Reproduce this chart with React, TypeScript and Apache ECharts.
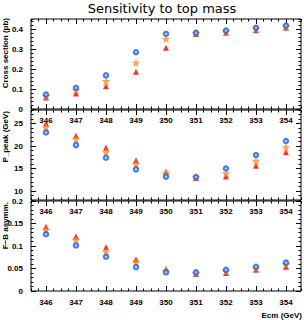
import React, { useEffect, useRef } from "react";
import * as echarts from "echarts";

const energies = [346, 347, 348, 349, 350, 351, 352, 353, 354];

const xsecBlue = [0.072, 0.106, 0.168, 0.284, 0.376, 0.381, 0.392, 0.406, 0.417];
const xsecStar = [0.065, 0.094, 0.139, 0.231, 0.351, 0.38, 0.388, 0.402, 0.412];
const xsecTri = [0.058, 0.078, 0.114, 0.186, 0.306, 0.375, 0.381, 0.394, 0.406];

const ppeakBlue = [23.0, 20.2, 17.4, 14.8, 13.2, 13.1, 15.0, 18.0, 21.1];
const ppeakStar = [24.1, 21.5, 18.6, 15.9, 13.9, 13.0, 13.9, 16.7, 19.7];
const ppeakTri = [25.0, 22.3, 19.6, 16.8, 14.3, 12.9, 13.2, 15.6, 18.6];

const afbBlue = [0.126, 0.101, 0.076, 0.053, 0.0415, 0.0415, 0.047, 0.054, 0.063];
const afbStar = [0.1355, 0.113, 0.087, 0.064, 0.045, 0.04, 0.044, 0.051, 0.059];
const afbTri = [0.143, 0.121, 0.097, 0.07, 0.049, 0.038, 0.04, 0.047, 0.054];

const yTicks1 = [0, 0.1, 0.2, 0.3, 0.4];
const yTicks2 = [10, 15, 20, 25];
const yTicks3 = [0, 0.05, 0.1, 0.15, 0.2];

const title = "Sensitivity to top mass";
const yNames = ["Cross section (pb)", "P_peak (GeV)", "F\u2212B asymm."];
const xName = "Ecm (GeV)";

const FONT = "Liberation Sans, Arial, sans-serif";
const STAR =
  "path://M12,0 L14.9,8.6 L24,8.6 L16.6,14 L19.4,22.8 L12,17.4 L4.6,22.8 L7.4,14 L0,8.6 L9.1,8.6 Z";

const X_MIN = 345.5;
const X_MAX = 354.5;

const grids = [
  { top: 19, yMin: 0, yMax: 0.45, majors: yTicks1, minor: 0.02 },
  { top: 110, yMin: 8, yMax: 28, majors: yTicks2, minor: 1 },
  { top: 201, yMin: 0, yMax: 0.2, majors: yTicks3, minor: 0.01 },
];

const tickLine = { color: "#000", width: 1 };
const labelStyle = {
  fontSize: 8,
  fontWeight: "bold" as const,
  color: "#000",
  fontFamily: FONT,
};

function buildOption() {
  const grid = grids.map((g) => ({
    left: 31,
    width: 270,
    top: g.top,
    height: 90,
    show: true,
    borderColor: "#000",
    borderWidth: 1,
    backgroundColor: "transparent",
  }));

  const xAxis: any[] = [];
  const yAxis: any[] = [];
  grids.forEach((g, gi) => {
    const baseX = {
      type: "value",
      gridIndex: gi,
      min: X_MIN,
      max: X_MAX,
      axisLine: { show: false, onZero: false },
      splitLine: { show: false },
    };
    xAxis.push({
      ...baseX,
      position: "bottom",
      axisTick: { show: true, inside: true, length: 5, customValues: energies, lineStyle: tickLine },
      axisLabel: { show: true, customValues: energies, margin: 7, ...labelStyle },
    });
    xAxis.push({
      ...baseX,
      position: "bottom",
      interval: 0.25,
      axisTick: { show: true, inside: true, length: 2.5, lineStyle: tickLine },
      axisLabel: { show: false },
    });
    xAxis.push({
      ...baseX,
      position: "top",
      axisTick: { show: true, inside: true, length: 5, customValues: energies, lineStyle: tickLine },
      axisLabel: { show: false },
    });
    xAxis.push({
      ...baseX,
      position: "top",
      interval: 0.25,
      axisTick: { show: true, inside: true, length: 2.5, lineStyle: tickLine },
      axisLabel: { show: false },
    });

    const baseY = {
      type: "value",
      gridIndex: gi,
      min: g.yMin,
      max: g.yMax,
      axisLine: { show: false, onZero: false },
      splitLine: { show: false },
    };
    yAxis.push({
      ...baseY,
      position: "left",
      axisTick: { show: true, inside: true, length: 5, customValues: g.majors, lineStyle: tickLine },
      axisLabel: { show: true, customValues: g.majors, margin: 8, ...labelStyle },
    });
    yAxis.push({
      ...baseY,
      position: "left",
      interval: g.minor,
      axisTick: { show: true, inside: true, length: 2.5, lineStyle: tickLine },
      axisLabel: { show: false },
    });
    yAxis.push({
      ...baseY,
      position: "right",
      axisTick: { show: true, inside: true, length: 5, customValues: g.majors, lineStyle: tickLine },
      axisLabel: { show: false },
    });
    yAxis.push({
      ...baseY,
      position: "right",
      interval: g.minor,
      axisTick: { show: true, inside: true, length: 2.5, lineStyle: tickLine },
      axisLabel: { show: false },
    });
  });

  const panels = [
    [xsecTri, xsecStar, xsecBlue],
    [ppeakTri, ppeakStar, ppeakBlue],
    [afbTri, afbStar, afbBlue],
  ];
  const series: any[] = [];
  panels.forEach((p, gi) => {
    const idx = gi * 4;
    const toData = (vals: number[]) => energies.map((e, i) => [e, vals[i]]);
    series.push({
      type: "scatter",
      xAxisIndex: idx,
      yAxisIndex: idx,
      data: toData(p[0]),
      symbol: "triangle",
      symbolSize: 6,
      itemStyle: { color: "#f00000" },
    });
    series.push({
      type: "scatter",
      xAxisIndex: idx,
      yAxisIndex: idx,
      data: toData(p[1]),
      symbol: STAR,
      symbolSize: 9,
      itemStyle: { color: "#ff8c1a" },
    });
    series.push({
      type: "scatter",
      xAxisIndex: idx,
      yAxisIndex: idx,
      data: toData(p[2]),
      symbol: "circle",
      symbolSize: 4.5,
      itemStyle: { color: "#a9c6ff", borderColor: "#1a5fe6", borderWidth: 2 },
    });
  });

  const nameTops = [18, 111, 202];
  const graphic: any[] = [
    {
      type: "text",
      x: 162,
      y: 8,
      style: {
        text: title,
        align: "center",
        verticalAlign: "middle",
        font: "13px 'DejaVu Sans', sans-serif",
        fill: "#000",
      },
    },
    ...yNames.map((n, i) => ({
      type: "text",
      x: 5,
      y: nameTops[i],
      rotation: Math.PI / 2,
      style: {
        text: n,
        align: "right",
        verticalAlign: "middle",
        font: `bold 8px ${FONT}`,
        fill: "#000",
      },
    })),
    {
      type: "text",
      x: 302,
      y: 315,
      style: {
        text: xName,
        align: "right",
        verticalAlign: "middle",
        font: `bold 8px ${FONT}`,
        fill: "#000",
      },
    },
  ];

  return {
    animation: false,
    backgroundColor: "#fff",
    grid,
    xAxis,
    yAxis,
    series,
    graphic,
  };
}

export default function App() {
  const ref = useRef<HTMLDivElement>(null);
  useEffect(() => {
    if (!ref.current) return;
    const chart = echarts.init(ref.current, null, { renderer: "svg" });
    chart.setOption(buildOption() as any);
    return () => chart.dispose();
  }, []);
  return (
    <div
      ref={ref}
      style={{ width: 304, height: 320, position: "absolute", left: 0, top: 0 }}
    />
  );
}
